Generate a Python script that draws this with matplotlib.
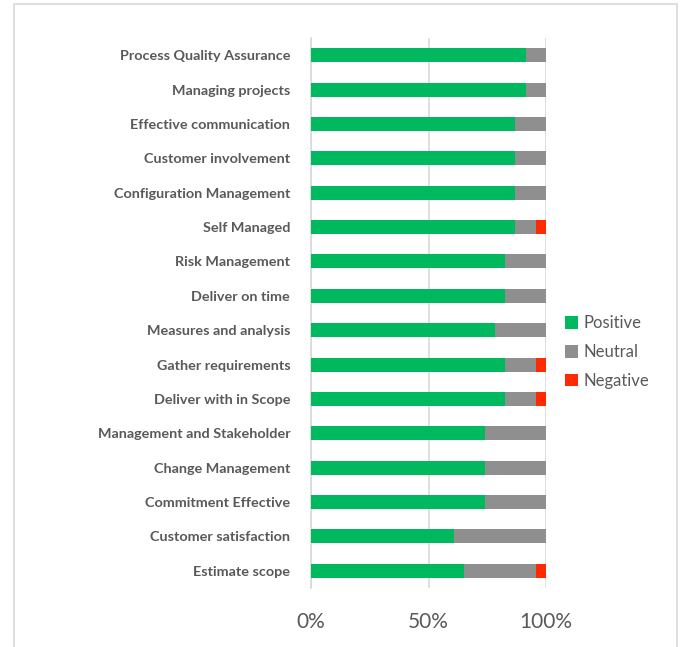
import matplotlib
matplotlib.use("Agg")
import matplotlib.pyplot as plt
from matplotlib.patches import Rectangle
import numpy as np

# Survey responses per practice area (23 respondents each)
categories = [
    "Process Quality Assurance", "Managing projects", "Effective communication",
    "Customer involvement", "Configuration Management", "Self Managed",
    "Risk Management", "Deliver on time", "Measures and analysis",
    "Gather requirements", "Deliver with in Scope", "Management and Stakeholder",
    "Change Management", "Commitment Effective", "Customer satisfaction",
    "Estimate scope",
]
positive = [21, 21, 20, 20, 20, 20, 19, 19, 18, 19, 19, 17, 17, 17, 14, 15]
neutral = [2, 2, 3, 3, 3, 2, 4, 4, 5, 3, 3, 6, 6, 6, 9, 7]
negative = [0, 0, 0, 0, 0, 1, 0, 0, 0, 1, 1, 0, 0, 0, 0, 1]
series_names = ["Positive", "Neutral", "Negative"]
series_colors = ["#00B85E", "#8F8F8F", "#FF2A00"]
x_ticks = [0, 0.5, 1.0]
x_tick_labels = ["0%", "50%", "100%"]

plt.rcParams["font.family"] = ["Lato", "DejaVu Sans"]
text_color = "#595959"

W, H = 681, 647
fig = plt.figure(figsize=(W / 100, H / 100), dpi=100)
fig.patch.set_facecolor("white")

# chart frame
fig.patches.append(Rectangle((14 / W, -0.01), (677 - 14) / W, (H - 4) / H + 0.01,
                             transform=fig.transFigure, fill=False,
                             edgecolor="#D9D9D9", linewidth=1.2))

left, right, top, bottom = 311, 546, 38, 588
ax = fig.add_axes([left / W, (H - bottom) / H, (right - left) / W, (bottom - top) / H])

pos = np.array(positive, dtype=float)
neu = np.array(neutral, dtype=float)
neg = np.array(negative, dtype=float)
total = pos + neu + neg
shares = [pos / total, neu / total, neg / total]

y = np.arange(len(categories))
starts = np.zeros(len(categories))
bars = []
for share, name, color in zip(shares, series_names, series_colors):
    b = ax.barh(y, share, left=starts, height=0.41, color=color, label=name,
                edgecolor="none", zorder=3)
    bars.append(b)
    starts = starts + share

ax.set_ylim(len(categories) - 0.5, -0.5)
ax.set_xlim(0, 1.0)
ax.set_yticks(y)
ax.set_yticklabels(categories, fontsize=10.4, fontweight="bold", color=text_color)
ax.set_xticks(x_ticks)
ax.set_xticklabels(x_tick_labels, fontsize=15, color=text_color)
ax.tick_params(axis="y", length=0, pad=15)
ax.tick_params(axis="x", length=0, pad=17)

for s in ["top", "right", "bottom"]:
    ax.spines[s].set_visible(False)
ax.spines["left"].set_color("#D9D9D9")
ax.spines["left"].set_linewidth(1.2)
ax.grid(axis="x", color="#D9D9D9", linewidth=1.2, zorder=0)
ax.set_axisbelow(True)

leg = fig.legend(handles=bars, labels=series_names, loc="center left",
                 bbox_to_anchor=(550 / W, 1 - 352 / H), frameon=False,
                 fontsize=12, labelcolor=text_color, handlelength=0.8,
                 handleheight=0.8, handletextpad=0.3, labelspacing=0.76)

fig.savefig("out.png", dpi=100, facecolor="white")
